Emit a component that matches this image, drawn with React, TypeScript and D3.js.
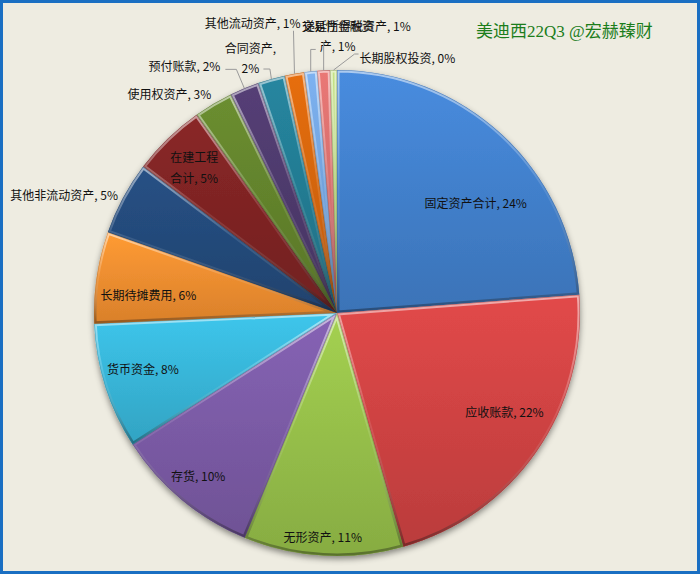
import React from 'react';
import * as d3 from 'd3';

const categories = ['固定资产合计', '应收账款', '无形资产', '存货', '货币资金', '长期待摊费用', '其他非流动资产', '在建工程合计', '使用权资产', '预付账款', '合同资产', '其他流动资产', '交易性金融资产', '递延所得税资产', '长期股权投资'];
const shares = [23.8, 21.8, 10.6, 9.7, 8.4, 6.1, 4.9, 4.9, 2.6, 1.95, 1.8, 1.3, 0.85, 0.85, 0.45];
const title = '美迪西22Q3 @宏赫臻财';

const palette = ['#4280cc', '#cf4343', '#96bf4a', '#7b5ba6', '#38b5d8', '#f28e30', '#244a7a', '#7e2424', '#62822c', '#4e3a6c', '#237b92', '#d3650c', '#72a3dc', '#d66e6c', '#b3d07a'];

// label layout: inside (radius factor, angle nudge) or outside (offset from edge point + leader)
type Lay = { inside: boolean; r?: number; da?: number; dx?: number; dy?: number; anchor?: string; breakAt?: number; leader?: [number, number][] };
const layout: Lay[] = [
  { inside: true, r: 0.73, da: 8.6 },
  { inside: true, r: 0.8, da: -4.4 },
  { inside: true, r: 0.92, da: 0.4 },
  { inside: true, r: 0.88, da: 0.7 },
  { inside: true, r: 0.83, da: 1.8 },
  { inside: true, r: 0.78, da: -2.8 },
  { inside: false, dx: -5, dy: -3, anchor: 'end' },
  { inside: true, r: 0.84, da: -0.3, breakAt: 4 },
  { inside: false, dx: -2, dy: -10, anchor: 'end' },
  { inside: false, dx: -24, dy: -23, anchor: 'end', leader: [[0, 0], [-8, -19], [-19, -19]] },
  { inside: false, dx: -21, dy: -32, anchor: 'middle', breakAt: 5, leader: [[0, 0], [-1.5, -10], [-8, -10]] },
  { inside: false, dx: 6, dy: -51, anchor: 'end', leader: [[0, 0], [-1, -43]] },
  { inside: false, dx: 27, dy: -46, anchor: 'middle', breakAt: 6, leader: [[0, 0], [0, -22], [5, -22]] },
  { inside: false, dx: -20.6, dy: -45, anchor: 'start', leader: [[0, 0], [0, -28]] },
  { inside: false, dx: 26, dy: -13, anchor: 'start', leader: [[0, 0], [21, -16], [25, -16]] },
];

const W = 700, H = 576;
const cx = 337, cy = 313, R = 243;

export default function App() {
  const total = d3.sum(shares);
  const pie = d3.pie<number>().sort(null).startAngle(0).endAngle(2 * Math.PI)(shares);
  const arc = d3.arc<d3.PieArcDatum<number>>().innerRadius(0).outerRadius(R);
  const font = "'Noto Sans CJK SC', 'Microsoft YaHei', sans-serif";
  const lineH = 20.5;

  return (
    <svg width={W} height={H} style={{ position: 'absolute', left: 0, top: 0 }}>
      <defs>
        {pie.map((p, i) => {
          const c = d3.rgb(palette[i]);
          return (
            <linearGradient key={i} id={`g${i}`} x1="0" y1="0" x2="0" y2="1">
              <stop offset="0%" stopColor={c.brighter(0.25).formatHex()} />
              <stop offset="100%" stopColor={c.darker(0.3).formatHex()} />
            </linearGradient>
          );
        })}
        <linearGradient id="bevel" x1="0" y1="0" x2="0" y2="1">
          <stop offset="0%" stopColor="#fff" stopOpacity={0.55} />
          <stop offset="50%" stopColor="#fff" stopOpacity={0.1} />
          <stop offset="100%" stopColor="#000" stopOpacity={0.35} />
        </linearGradient>
        {pie.map((p, i) => (
          <clipPath key={i} id={`c${i}`}>
            <path d={arc(p) || ''} transform={`translate(${cx},${cy})`} />
          </clipPath>
        ))}
        <filter id="shadow" x="-10%" y="-10%" width="120%" height="125%">
          <feDropShadow dx="0" dy="3" stdDeviation="3" floodColor="#000" floodOpacity="0.45" />
        </filter>
      </defs>
      <rect x={1.5} y={1.5} width={W - 3} height={H - 5} fill="#EEECE1" stroke="#1a6fc2" strokeWidth={3} />
      <g filter="url(#shadow)">
        {pie.map((p, i) => (
          <path key={i} d={arc(p) || ''} transform={`translate(${cx},${cy})`} fill={`url(#g${i})`} />
        ))}
      </g>
      {pie.map((p, i) => (
        <g key={i} clipPath={`url(#c${i})`}>
          <path d={arc(p) || ''} transform={`translate(${cx},${cy})`} fill="none" stroke="url(#bevel)" strokeWidth={5} />
          <path d={arc(p) || ''} transform={`translate(${cx},${cy})`} fill="none" stroke={d3.rgb(palette[i]).darker(0.8).formatHex()} strokeWidth={1.2} strokeOpacity={0.6} />
        </g>
      ))}
      {pie.map((p, i) => {
        const L = layout[i];
        const text = `${categories[i]}, ${Math.round((shares[i] / total) * 100)}%`;
        const lines = L.breakAt ? [text.slice(0, L.breakAt), text.slice(L.breakAt).trim()] : [text];
        const mid = (p.startAngle + p.endAngle) / 2;
        let x: number, y: number, anchor = 'middle';
        let leader: string | null = null;
        if (L.inside) {
          const a = mid + ((L.da || 0) * Math.PI) / 180;
          const rr = (L.r || 0.8) * R;
          x = cx + rr * Math.sin(a);
          y = cy - rr * Math.cos(a);
          y -= ((lines.length - 1) * lineH) / 2;
        } else {
          const ex = cx + R * Math.sin(mid);
          const ey = cy - R * Math.cos(mid);
          x = ex + (L.dx || 0);
          y = ey + (L.dy || 0);
          anchor = L.anchor || 'middle';
          if (L.leader) leader = L.leader.map(([a, b]) => `${ex + a},${ey + b}`).join(' ');
        }
        return (
          <g key={i}>
            {leader && <polyline points={leader} fill="none" stroke="#9a9a9a" strokeWidth={1} />}
            <text x={x} y={y} textAnchor={anchor} fontFamily={font} fontSize={12} fill="#111">
              {lines.map((l, j) => (
                <tspan key={j} x={x} dy={j === 0 ? 0 : lineH} dominantBaseline="central">{l}</tspan>
              ))}
            </text>
          </g>
        );
      })}
      <text x={476} y={37} fontFamily="'Liberation Serif', 'Noto Sans CJK SC', serif" fontSize={17} fill="#1b7d1b">{title}</text>
    </svg>
  );
}
